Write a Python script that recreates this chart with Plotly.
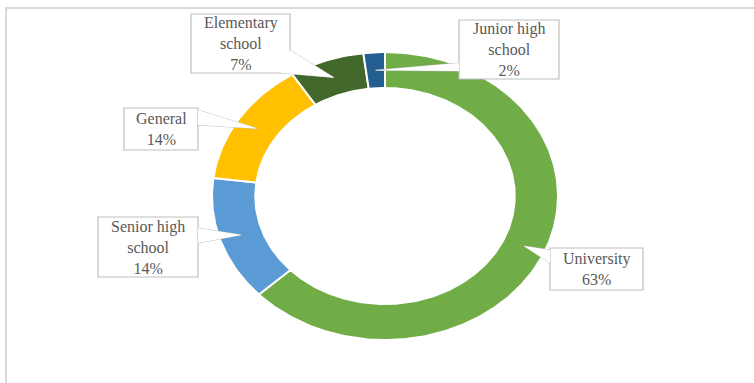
import numpy as np
import plotly.graph_objects as go

# Education level shares (percent), in clockwise order from 12 o'clock
categories = ["University", "Senior high school", "General", "Elementary school", "Junior high school"]
shares = [63, 14, 14, 7, 2]
label_text = ["University", "Senior high<br>school", "General", "Elementary<br>school", "Junior high<br>school"]
colors = ["#70AD47", "#5B9BD5", "#FFC000", "#43682B", "#255E91"]

W, H = 754, 383
# ring geometry in pixel space (axis units = pixels)
CX, CY = 385, 196
RX, RY = 173, 144
HOLE = 0.75

# callout boxes (x0, y0, x1, y1) and wedge base points on the box edge
boxes = {
    "University": ((550, 248, 643, 290), ((550, 250), (550, 263))),
    "Senior high school": ((98, 217, 198, 277), ((198, 228), (198, 243))),
    "General": ((124, 108, 198, 150), ((198, 110), (198, 125))),
    "Elementary school": ((191, 14, 290, 73), ((290, 50), (281, 73))),
    "Junior high school": ((459, 20, 559, 79), ((459, 63), (459, 71))),
}


def ring_point(frac, r):
    ang = 2 * np.pi * frac
    return CX + RX * r * np.sin(ang), CY - RY * r * np.cos(ang)


fig = go.Figure()
total = sum(shares)
start = 0.0
tips = {}
for cat, val, col in zip(categories, shares, colors):
    f0 = start / total
    f1 = (start + val) / total
    t = np.linspace(f0, f1, max(8, int(val * 4)))
    ox, oy = ring_point(t, 1.0)
    ix, iy = ring_point(t[::-1], HOLE)
    xs = np.concatenate([ox, ix, ox[:1]])
    ys = np.concatenate([oy, iy, oy[:1]])
    fig.add_trace(go.Scatter(
        x=xs, y=ys, mode="lines", fill="toself", fillcolor=col,
        line=dict(color="white", width=2), hoverinfo="text",
        text=f"{cat}: {val}%", showlegend=False,
    ))
    tips[cat] = ring_point((f0 + f1) / 2, (1 + HOLE) / 2)
    start += val

shapes = [dict(type="rect", xref="x", yref="y", x0=6, y0=8, x1=W + 10, y1=H + 10,
               line=dict(color="#D9D9D9", width=2), fillcolor="rgba(0,0,0,0)", layer="below")]
annotations = []
for cat, val, txt in zip(categories, shares, label_text):
    (x0, y0, x1, y1), (b1, b2) = boxes[cat]
    tx, ty = tips[cat]
    wedge = f"M {b1[0]},{b1[1]} L {tx:.2f},{ty:.2f} L {b2[0]},{b2[1]} Z"
    shapes.append(dict(type="path", path=wedge, xref="x", yref="y",
                       line=dict(color="#BFBFBF", width=1), fillcolor="white", layer="above"))
    shapes.append(dict(type="rect", xref="x", yref="y", x0=x0, y0=y0, x1=x1, y1=y1,
                       line=dict(color="#BFBFBF", width=1.2), fillcolor="white", layer="above"))
    shapes.append(dict(type="path", path=wedge, xref="x", yref="y",
                       line=dict(width=0), fillcolor="white", layer="above"))
    annotations.append(dict(
        x=(x0 + x1) / 2, y=(y0 + y1) / 2, xref="x", yref="y",
        text=f"{txt}<br>{val}%", showarrow=False, align="center",
        font=dict(family="'Liberation Serif', 'DejaVu Serif', serif", size=16, color="#595959"),
    ))

fig.update_layout(
    width=W, height=H, margin=dict(l=0, r=0, t=0, b=0),
    paper_bgcolor="white", plot_bgcolor="white",
    xaxis=dict(range=[0, W], visible=False, fixedrange=True),
    yaxis=dict(range=[H, 0], visible=False, fixedrange=True),
    shapes=shapes, annotations=annotations, showlegend=False,
)

fig.write_html("out.html")
